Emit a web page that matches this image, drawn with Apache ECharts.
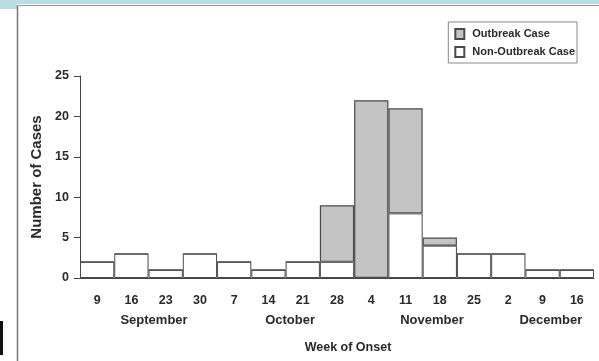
<!DOCTYPE html>
<html>
<head>
<meta charset="utf-8">
<script src="https://cdn.jsdelivr.net/npm/echarts@6/dist/echarts.min.js"></script>
<style>
  html, body { margin: 0; padding: 0; background: #fff; }
  #main { width: 599px; height: 361px; }
</style>
</head>
<body>
<div id="main"></div>
<script>
// week labels (day of month), one bar per week
const weeks = ['9', '16', '23', '30', '7', '14', '21', '28', '4', '11', '18', '25', '2', '9', '16'];
const nonOutbreak = [2, 3, 1, 3, 2, 1, 2, 2, 0, 8, 4, 3, 3, 1, 1];
const outbreak = [0, 0, 0, 0, 0, 0, 0, 7, 22, 13, 1, 0, 0, 0, 0];

// month labels, placed along a 0..15 week scale
const months = ['September', 'October', 'November', 'December'];
const monthPos = [2.16, 6.13, 10.27, 13.74];

const yTicks = [0, 5, 10, 15, 20, 25];

const font = 'Liberation Sans, Arial, sans-serif';
const txt = '#2a2a2a';

const chart = echarts.init(document.getElementById('main'));

const option = {
  backgroundColor: '#fff',
  animation: false,
  textStyle: { fontFamily: font },
  grid: { left: 80, right: 5, top: 76, bottom: 83 },
  legend: {
    orient: 'vertical',
    right: 22,
    top: 22,
    data: ['Outbreak Case', 'Non-Outbreak Case'],
    icon: 'rect',
    itemWidth: 9,
    itemHeight: 10,
    itemGap: 6,
    padding: [6, 2, 5, 6],
    borderColor: '#888',
    borderWidth: 1,
    textStyle: { fontFamily: font, fontWeight: 'bold', fontSize: 11, color: txt, padding: [0, 0, 0, 3] }
  },
  xAxis: [
    {
      type: 'category',
      data: weeks,
      boundaryGap: true,
      axisLine: { lineStyle: { color: '#444', width: 1 } },
      axisTick: { length: 5, lineStyle: { color: '#444' } },
      axisLabel: { color: txt, fontWeight: 'bold', fontSize: 12.5, margin: 16, interval: 0 },
      name: 'Week of Onset',
      nameLocation: 'middle',
      nameGap: 63,
      nameTextStyle: { color: txt, fontWeight: 'bold', fontSize: 12.5, padding: [0, 0, 0, 22] }
    },
    {
      type: 'value',
      position: 'bottom',
      min: 0,
      max: 15,
      offset: 0,
      axisLine: { show: false },
      axisTick: { show: false },
      splitLine: { show: false },
      axisLabel: {
        customValues: monthPos,
        formatter: v => months[monthPos.indexOf(v)] || '',
        color: txt,
        fontWeight: 'bold',
        fontSize: 13,
        margin: 36
      }
    }
  ],
  yAxis: {
    type: 'value',
    min: 0,
    max: 25,
    interval: 5,
    axisLine: { show: true, lineStyle: { color: '#444' } },
    axisTick: { show: true, length: 6, lineStyle: { color: '#444' } },
    splitLine: { show: false },
    axisLabel: {
      color: txt, fontWeight: 'bold', fontSize: 12.5, margin: 11,
      formatter: v => yTicks.indexOf(v) >= 0 ? String(v) : ''
    },
    name: 'Number of Cases',
    nameLocation: 'middle',
    nameGap: 35,
    nameTextStyle: { color: txt, fontWeight: 'bold', fontSize: 15 }
  },
  series: [
    {
      name: 'Non-Outbreak Case',
      type: 'bar',
      stack: 'cases',
      data: nonOutbreak,
      barCategoryGap: 0,
      itemStyle: { color: '#fff', borderColor: '#4a4a4a', borderWidth: 1 }
    },
    {
      name: 'Outbreak Case',
      type: 'bar',
      stack: 'cases',
      data: outbreak,
      barCategoryGap: 0,
      itemStyle: { color: '#c4c4c4', borderColor: '#4a4a4a', borderWidth: 1.2 }
    }
  ],
  graphic: [
    { type: 'rect', left: 0, top: 0, shape: { width: 599, height: 4 }, style: { fill: '#b9dde3' } },
    { type: 'rect', left: 0, top: 0, shape: { width: 17, height: 9 }, style: { fill: '#b9dde3' } },
    { type: 'line', shape: { x1: 17.5, y1: 5, x2: 17.5, y2: 361 }, style: { stroke: '#777', lineWidth: 1.5 } },
    { type: 'line', shape: { x1: 17, y1: 5.5, x2: 599, y2: 5.5 }, style: { stroke: '#999', lineWidth: 1 } },
    { type: 'rect', left: 0, top: 321, shape: { width: 3, height: 34 }, style: { fill: '#111' } }
  ]
};

chart.setOption(option);
</script>
</body>
</html>
